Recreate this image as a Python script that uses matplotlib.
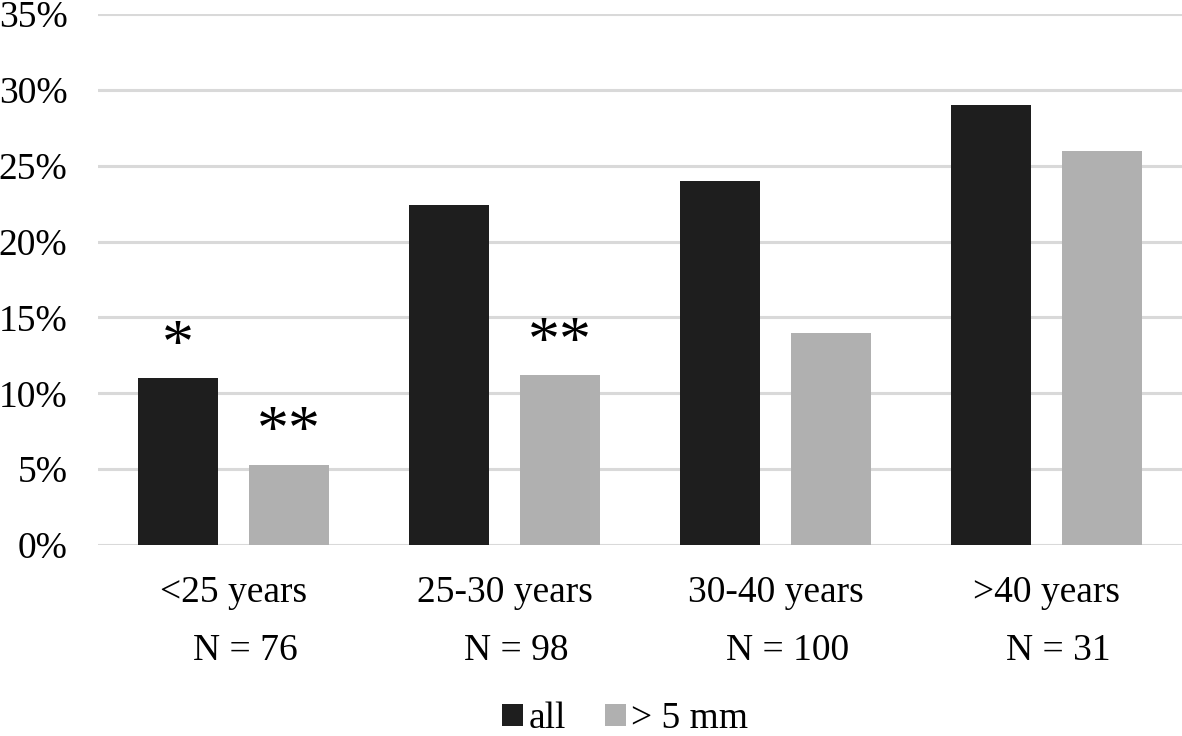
import numpy as np
import matplotlib.pyplot as plt
import matplotlib.transforms as mtransforms

plt.rcParams['font.family'] = ['Liberation Serif', 'DejaVu Serif']

groups = ['<25 years', '25-30 years', '30-40 years', '>40 years']
n_labels = ['N = 76', 'N = 98', 'N = 100', 'N = 31']
all_pct = [11.0, 22.4, 24.0, 29.0]
big_pct = [5.3, 11.2, 14.0, 26.0]
# significance marks: (group index, series, text)
marks = [(0, 'all', '*'), (0, 'big', '**'), (1, 'big', '**')]

dark = '#1e1e1e'
light = '#b0b0b0'
grid = '#d9d9d9'
fs = 27

fig = plt.figure(figsize=(11.82, 7.36), dpi=100)
ax = fig.add_axes([98 / 1182, 1 - 545 / 736, 1 - 98 / 1182, (545 - 14) / 736])

x = np.arange(len(groups))
w = 80 / 271
off = 55.5 / 271
b1 = ax.bar(x - off, all_pct, w, color=dark, label='all', zorder=3)
b2 = ax.bar(x + off, big_pct, w, color=light, label='> 5 mm', zorder=3)

ax.set_xlim(-0.5, len(groups) - 0.5)
ax.set_ylim(0, 35)
ax.set_yticks(np.arange(0, 36, 5))
ax.set_yticklabels([f'{v}%' for v in range(0, 36, 5)], fontsize=fs)
ax.yaxis.grid(True, color=grid, linewidth=2.2, zorder=0)
ax.set_axisbelow(True)
for s in ax.spines.values():
    s.set_visible(False)
ax.tick_params(axis='y', length=0, pad=22)
ax.tick_params(axis='x', length=0, pad=0)
ax.set_xticks(x)
ax.set_xticklabels([])

trans = mtransforms.blended_transform_factory(ax.transData, ax.transAxes)
for i, g in enumerate(groups):
    ax.text(i, -48 / 531, g, transform=trans, ha='center', va='center', fontsize=fs)
    ax.text(i + 0.045, -106 / 531, n_labels[i], transform=trans, ha='center', va='center', fontsize=fs)

for gi, series, txt in marks:
    if series == 'all':
        xp, yp = gi - off, all_pct[gi]
    else:
        xp, yp = gi + off, big_pct[gi]
    ax.annotate(txt, (xp, yp), xytext=(0, 1), textcoords='offset points',
                ha='center', va='bottom', fontsize=46)

fig.legend(handles=[b1, b2], loc='center', bbox_to_anchor=(0.529, 1 - 719 / 736),
           ncol=2, frameon=False, fontsize=fs, handlelength=0.55, handleheight=0.55,
           handletextpad=0.15, columnspacing=1.05)

fig.savefig('out.png', dpi=100)
